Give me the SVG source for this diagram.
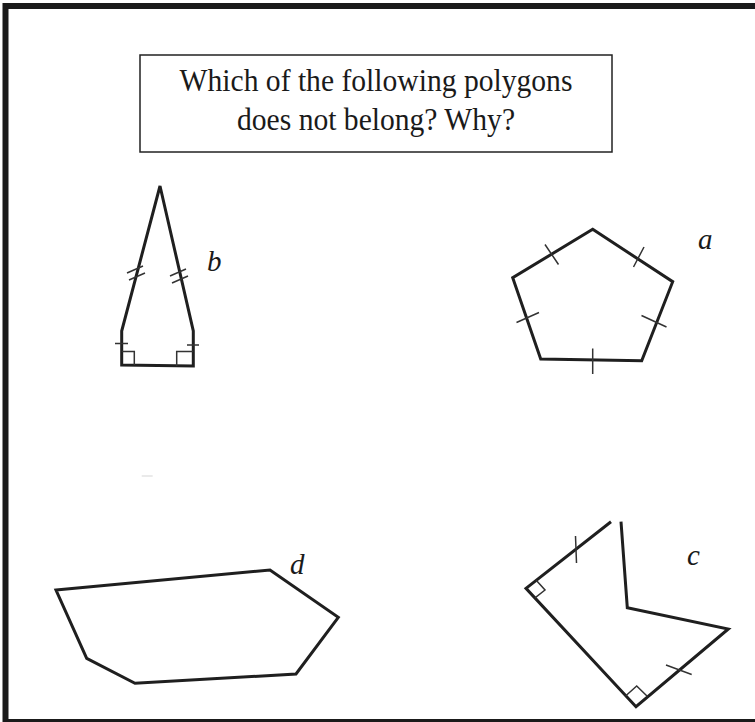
<svg xmlns="http://www.w3.org/2000/svg" width="755" height="722" viewBox="0 0 755 722">
<style>
.frame{fill:none;stroke:#1a1a1a;stroke-width:6}
.box{fill:#fff;stroke:#222;stroke-width:1.5}
.q{font-family:"Liberation Serif","Times New Roman",serif;font-size:32px;fill:#1a1a1a;text-anchor:middle}
.lbl{font-family:"Liberation Serif","Times New Roman",serif;font-size:29px;font-style:italic;fill:#1a1a1a}
.poly{fill:none;stroke:#1f1f1f;stroke-width:3;stroke-linejoin:miter}
.tick{fill:none;stroke:#333;stroke-width:1.5}
.ra{fill:none;stroke:#333;stroke-width:1.5}
</style>
<rect width="755" height="722" fill="#fff"/>
<rect class="frame" x="5.5" y="6" width="780" height="716"/>
<g id="question">
<rect class="box" x="140" y="55" width="472" height="97"/>
<g transform="translate(376,0) scale(0.925,1)">
<text class="q" x="0" y="91">Which of the following polygons</text>
<text class="q" x="0" y="130">does not belong? Why?</text>
</g>
</g>
<g id="polygon-b">
<path class="poly" d="M160,186 L193.3,331 L193.3,366 L121.7,365 L121.7,331 Z"/>
<path class="tick" d="M127,273 L143,266 M129,280 L145,273"/>
<path class="tick" d="M170,276 L186,269 M172,283 L188,276"/>
<path class="tick" d="M115,343.5 L128,343.5 M187,345 L199,345"/>
<path class="ra" d="M121.7,351.5 L134.3,351.5 L134.3,365 M176.7,366 L176.7,351.5 L193.3,351.5"/>
<text class="lbl" x="207" y="271">b</text>
</g>
<g id="polygon-a">
<path class="poly" d="M592.7,229.3 L672.7,281.7 L641.7,360.7 L540.7,359 L512.7,277.7 Z"/>
<path class="tick" d="M545,244.5 L558.5,264.5 M633.5,267 L644,247 M641.5,315.5 L666.5,327 M592.7,348.5 L592.7,374 M516.5,322.5 L539,312.5"/>
<text class="lbl" x="698" y="249">a</text>
</g>
<g id="polygon-d">
<path class="poly" d="M56,590 L270,570 L338.3,617.3 L296,674 L135,683.3 L86.7,658.3 Z"/>
<path d="M141.7,476 L152.7,476" stroke="#ddd" stroke-width="1.2"/>
<text class="lbl" x="290" y="574">d</text>
</g>
<g id="polygon-c">
<path class="poly" d="M611,521.7 L526,588.3 L636,706.7 L728.3,629 L627.3,607.7 L621,521.7"/>
<path class="tick" d="M575.5,536 L576.5,563 M666,665 L691.7,674.5"/>
<path class="ra" d="M536.2,580.3 L545,590 L535,597.8 M625.8,695.7 L636.7,686 L647.5,696.5"/>
<text class="lbl" x="687" y="565">c</text>
</g>
</svg>
